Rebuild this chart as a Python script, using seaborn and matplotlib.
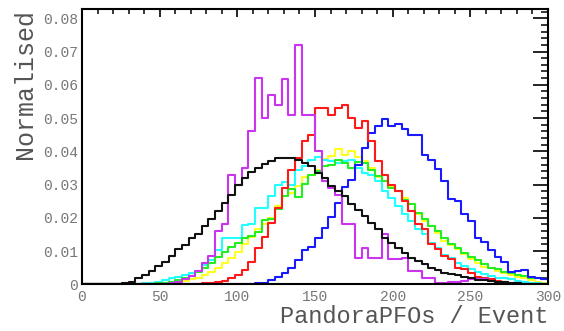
import numpy as np
import pandas as pd
import matplotlib
matplotlib.use("Agg")
import matplotlib.pyplot as plt
import seaborn as sns
from matplotlib.ticker import MultipleLocator, FuncFormatter

# 70 bins of PandoraPFO multiplicity between 0 and 300
n_bins = 70
x_range = (0, 300)
bin_edges = np.linspace(x_range[0], x_range[1], n_bins + 1)

# Normalised bin contents (fraction of events per bin)
black = [0, 0, 0, 0, 0, 0,
         0.0005, 0.0008, 0.0018, 0.0028,
         0.004, 0.0055, 0.0068, 0.0085, 0.0106,
         0.0118, 0.014, 0.0152, 0.0175, 0.0195,
         0.022, 0.0245, 0.027, 0.0298, 0.032,
         0.0338, 0.035, 0.0362, 0.037, 0.038,
         0.038, 0.038, 0.0375, 0.0365, 0.0355,
         0.0335, 0.032, 0.0295, 0.028, 0.0265,
         0.024, 0.0222, 0.0205, 0.0185, 0.0165,
         0.0138, 0.0125, 0.011, 0.0095, 0.008,
         0.007, 0.006, 0.005, 0.0043, 0.0035,
         0.003, 0.0028, 0.0022, 0.0018, 0.0014,
         0.0012, 0.001, 0.0008, 0.0006, 0.0004,
         0.0003, 0.0002, 0, 0, 0]

magenta = [0, 0, 0, 0, 0, 0, 0, 0, 0, 0, 0, 0, 0,
           0.0003, 0.0008, 0.0015, 0.0025, 0.004, 0.0065, 0.0085,
           0.016, 0.018, 0.033, 0.030, 0.035,
           0.046, 0.062, 0.050, 0.057, 0.054,
           0.0616, 0.051, 0.072, 0.051, 0.051,
           0.040, 0.031, 0.029, 0.0268, 0.018,
           0.018, 0.008, 0.011, 0.008, 0.008,
           0.015, 0.0075, 0.0075, 0.008, 0.004,
           0.004, 0.002, 0.002, 0.0005, 0.0005,
           0.0007, 0.0007, 0.001, 0.0015, 0.0015,
           0.0015, 0.001, 0.0005, 0, 0,
           0, 0, 0, 0, 0]

red = [0, 0, 0, 0, 0, 0, 0, 0, 0, 0, 0, 0, 0, 0, 0, 0, 0, 0,
       0.0003, 0.0005,
       0.0007, 0.001, 0.0018, 0.0028, 0.0043,
       0.0068, 0.0108, 0.0143, 0.0183, 0.0228,
       0.029, 0.0345, 0.038, 0.043, 0.045,
       0.053, 0.053, 0.051, 0.053, 0.054,
       0.050, 0.047, 0.049, 0.043, 0.037,
       0.033, 0.030, 0.028, 0.025, 0.022,
       0.018, 0.0165, 0.012, 0.0105, 0.0085,
       0.0075, 0.005, 0.0045, 0.0035, 0.0023,
       0.002, 0.0015, 0.001, 0.0006, 0.0005,
       0.0003, 0.0002, 0, 0, 0]

blue = [0, 0, 0, 0, 0, 0, 0, 0, 0, 0, 0, 0, 0, 0, 0, 0, 0, 0, 0, 0,
        0, 0, 0, 0, 0, 0,
        0.0003, 0.0005, 0.0013, 0.0023,
        0.0033, 0.0048, 0.0073, 0.0103, 0.0113,
        0.0138, 0.0168, 0.0203, 0.0243, 0.0293,
        0.0315, 0.036, 0.041, 0.0455, 0.0475,
        0.0498, 0.0475, 0.0483, 0.0468, 0.0448,
        0.0448, 0.0388, 0.0373, 0.0348, 0.031,
        0.0258, 0.025, 0.021, 0.019, 0.014,
        0.0128, 0.0103, 0.0083, 0.0068, 0.0038,
        0.004, 0.0043, 0.0023, 0.002, 0.0015]

green = [0, 0, 0, 0, 0, 0, 0, 0, 0, 0,
         0.0002, 0.0003, 0.0005, 0.0008, 0.0013,
         0.0018, 0.0025, 0.0038, 0.005, 0.0065,
         0.0083, 0.0098, 0.0113, 0.0125, 0.0138,
         0.0145, 0.0158, 0.0193, 0.0195, 0.0225,
         0.0265, 0.0288, 0.0263, 0.0303, 0.0328,
         0.034, 0.0355, 0.0358, 0.0375, 0.0365,
         0.035, 0.0368, 0.0365, 0.0345, 0.0325,
         0.031, 0.029, 0.028, 0.0255, 0.024,
         0.0215, 0.0195, 0.0175, 0.016, 0.014,
         0.012, 0.0108, 0.0095, 0.0082, 0.0072,
         0.0062, 0.005, 0.0045, 0.0038, 0.0033,
         0.0028, 0.0025, 0.002, 0.0018, 0.0015]

cyan = [0, 0, 0, 0, 0, 0, 0, 0, 0,
        0.0003,
        0.0005, 0.0008, 0.0013, 0.0018, 0.0023,
        0.0028, 0.0035, 0.004, 0.0058, 0.0073,
        0.0103, 0.0138, 0.0138, 0.014, 0.0178,
        0.018, 0.0228, 0.0228, 0.0265, 0.030,
        0.0308, 0.030, 0.0345, 0.0355, 0.0373,
        0.0383, 0.0375, 0.037, 0.0365, 0.037,
        0.0375, 0.035, 0.0335, 0.033, 0.031,
        0.028, 0.026, 0.0235, 0.021, 0.019,
        0.0165, 0.015, 0.0125, 0.011, 0.0088,
        0.0078, 0.0065, 0.0055, 0.0045, 0.0038,
        0.003, 0.0025, 0.002, 0.0018, 0.0015,
        0.001, 0.0008, 0.0005, 0.0003, 0.0002]

yellow = [0, 0, 0, 0, 0, 0, 0, 0, 0, 0, 0,
          0.0002, 0.0003, 0.0005, 0.0008,
          0.001, 0.0015, 0.002, 0.0028, 0.0038,
          0.0048, 0.0063, 0.0078, 0.0098, 0.012,
          0.0143, 0.0165, 0.018, 0.0198, 0.0235,
          0.0265, 0.0275, 0.0295, 0.0323, 0.033,
          0.0343, 0.0378, 0.0385, 0.0408, 0.0388,
          0.040, 0.0383, 0.0372, 0.035, 0.0323,
          0.031, 0.0295, 0.028, 0.026, 0.024,
          0.021, 0.019, 0.0175, 0.0155, 0.013,
          0.0118, 0.0105, 0.0092, 0.0075, 0.0065,
          0.0053, 0.0048, 0.004, 0.0035, 0.0028,
          0.0022, 0.0018, 0.0012, 0.0008, 0.0005]

sample_order = ["black", "magenta", "red", "blue", "green", "cyan", "yellow"]
sample_values = [black, magenta, red, blue, green, cyan, yellow]
line_colors = {"black": "#111111", "magenta": "#cc33ee", "red": "#ff1a1a",
               "blue": "#1a1aff", "green": "#22ee22", "cyan": "#22ffff",
               "yellow": "#ffff22"}

centers = 0.5 * (bin_edges[:-1] + bin_edges[1:])
df = pd.concat(
    [pd.DataFrame({"pfos": centers, "frac": np.asarray(vals, dtype=float),
                   "sample": name})
     for name, vals in zip(sample_order, sample_values)],
    ignore_index=True,
)

sns.set_theme(style="white")
plt.rcParams["font.family"] = ["Liberation Mono", "DejaVu Sans"]

W, H = 564, 331
fig = plt.figure(figsize=(W / 100, H / 100), dpi=100)
x0, x1, y0, y1 = 82, 548, 9.3, 284.3
ax = fig.add_axes([x0 / W, 1 - y1 / H, (x1 - x0) / W, (y1 - y0) / H])

sns.histplot(data=df, x="pfos", weights="frac", hue="sample",
             hue_order=sample_order, palette=line_colors,
             bins=n_bins, binrange=x_range,
             element="step", fill=False, linewidth=1.5, legend=False, ax=ax)

ax.set_xlim(*x_range)
ax.set_ylim(0, 0.0827)

ax.xaxis.set_major_locator(MultipleLocator(50))
ax.xaxis.set_minor_locator(MultipleLocator(10))
ax.yaxis.set_major_locator(MultipleLocator(0.01))
ax.yaxis.set_minor_locator(MultipleLocator(0.002))
ax.yaxis.set_major_formatter(FuncFormatter(lambda v, p: "0" if abs(v) < 1e-9 else f"{v:.2f}"))
ax.xaxis.set_major_formatter(FuncFormatter(lambda v, p: f"{v:.0f}"))

label_gray = "#777777"
title_gray = "#555555"
ax.tick_params(which="both", direction="in", top=True, right=True,
               color="black", labelcolor=label_gray, labelsize=10.5)
ax.tick_params(axis="y", which="major", length=10.5, width=1.2, pad=3)
ax.tick_params(axis="y", which="minor", length=5, width=1.1)
ax.tick_params(axis="x", which="major", length=5.5, width=1.2, pad=4)
ax.tick_params(axis="x", which="minor", length=3.5, width=1.1)

for sp in ax.spines.values():
    sp.set_linewidth(1.5)
    sp.set_color("black")

ax.set_ylabel("Normalised", loc="top", fontsize=18, color=title_gray, labelpad=4)
ax.set_xlabel("PandoraPFOs / Event", loc="right", fontsize=17, color=title_gray, labelpad=1)

fig.savefig("out.png", dpi=100)
